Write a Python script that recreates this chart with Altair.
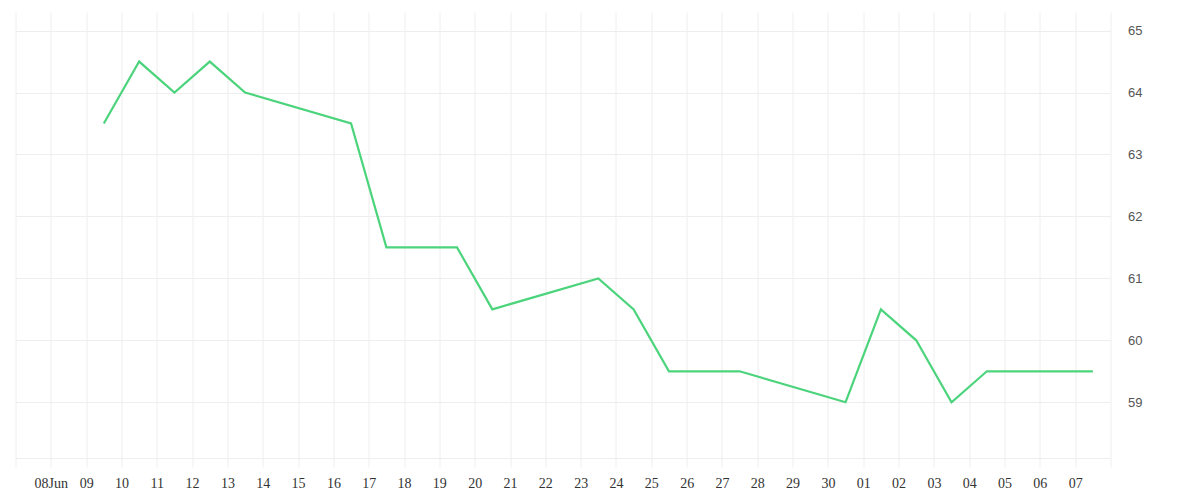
import altair as alt
import pandas as pd

dates = ["2023-06-09", "2023-06-10", "2023-06-11", "2023-06-12", "2023-06-13",
         "2023-06-16", "2023-06-17", "2023-06-18", "2023-06-19", "2023-06-20",
         "2023-06-23", "2023-06-24", "2023-06-25", "2023-06-26", "2023-06-27",
         "2023-06-30", "2023-07-01", "2023-07-02", "2023-07-03", "2023-07-04",
         "2023-07-05", "2023-07-06", "2023-07-07"]
values = [63.5, 64.5, 64.0, 64.5, 64.0,
          63.5, 61.5, 61.5, 61.5, 60.5,
          61.0, 60.5, 59.5, 59.5, 59.5,
          59.0, 60.5, 60.0, 59.0, 59.5,
          59.5, 59.5, 59.5]
y_ticks = [59, 60, 61, 62, 63, 64, 65]

df = pd.DataFrame({"date": [d + "T12:00:00Z" for d in dates], "value": values})

x_ticks = [alt.DateTime(year=2023, month=6, date=d, utc=True) for d in range(7, 31)] + \
          [alt.DateTime(year=2023, month=7, date=d, utc=True) for d in range(1, 9)]

label_expr = ("(utcmonth(datum.value) == 5 && utcdate(datum.value) == 7) || "
              "(utcmonth(datum.value) == 6 && utcdate(datum.value) == 8) ? '' : "
              "(utcmonth(datum.value) == 5 && utcdate(datum.value) == 8) ? "
              "utcFormat(datum.value, '%d%b') : utcFormat(datum.value, '%d')")

chart = alt.Chart(df).mark_line(color="#4cd47c", strokeWidth=2.2).encode(
    x=alt.X("date:T",
            scale=alt.Scale(type="utc",
                            domain=[alt.DateTime(year=2023, month=6, date=7, utc=True),
                                    alt.DateTime(year=2023, month=7, date=8, utc=True)]),
            axis=alt.Axis(values=x_ticks, labelExpr=label_expr, title=None,
                          grid=True, gridColor="#eeeeee", domainColor="#eeeeee",
                          tickColor="#eeeeee", tickSize=9, labelPadding=9,
                          labelFont="Liberation Serif", labelFontSize=14,
                          labelColor="#333333", labelOverlap=False, labelFlush=False)),
    y=alt.Y("value:Q",
            scale=alt.Scale(domain=[58.1, 65.3], nice=False, zero=False),
            axis=alt.Axis(orient="right", values=y_ticks, title=None, ticks=False,
                          domain=False, gridColor="#eeeeee", labelPadding=17,
                          labelFont="Liberation Sans", labelFontSize=13,
                          labelColor="#555555")),
).properties(
    width=1095, height=446,
    padding={"left": 6.5, "top": 4, "right": 5, "bottom": 5},
).configure_view(stroke=None)

chart.save("out.html", embed_options={"renderer": "svg", "actions": False})
